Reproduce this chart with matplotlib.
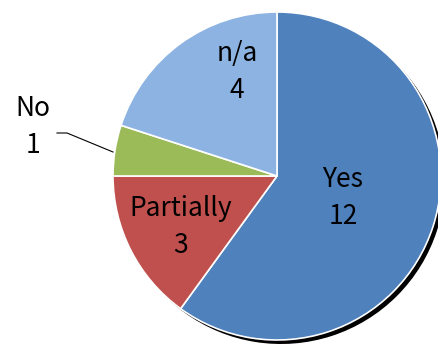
import matplotlib
matplotlib.use("Agg")
import matplotlib.pyplot as plt
from matplotlib import font_manager

categories = ["Yes", "Partially", "No", "n/a"]
values = [12, 3, 1, 4]
colors = ["#4F81BD", "#C0504D", "#9BBB59", "#8DB3E2"]

W, H = 438, 347
fig = plt.figure(figsize=(W / 100, H / 100), dpi=100)
ax = fig.add_axes([0, 0, 1, 1])
ax.set_xlim(0, W)
ax.set_ylim(0, H)
ax.axis("off")

names = {f.name for f in font_manager.fontManager.ttflist}
fam = ["Liberation Sans Narrow"] if "Liberation Sans Narrow" in names else ["Noto Sans CJK JP"]
fam = fam + ["DejaVu Sans"]

cx, cy, r = 277, H - 176, 164

# shadow
ax.pie(values, startangle=90, counterclock=False, center=(cx + 4, cy - 4), radius=r,
       colors=["black"] * len(values), wedgeprops=dict(linewidth=0))
ax.pie(values, startangle=90, counterclock=False, center=(cx, cy), radius=r,
       colors=colors, wedgeprops=dict(edgecolor="white", linewidth=1.2))
ax.set_xlim(0, W)
ax.set_ylim(0, H)
ax.set_aspect("equal")

label_pos = {"Yes": (343, 198), "Partially": (181, 227), "No": (33, 127), "n/a": (237, 72)}
for cat, val in zip(categories, values):
    x, y = label_pos[cat]
    ax.text(x, H - y, f"{cat}\n{val}", ha="center", va="center", fontsize=19,
            family=fam, linespacing=1.45, color="black")

ax.plot([57, 67, 113], [H - 133, H - 133, H - 152], color="black", linewidth=0.8)

fig.savefig("out.png", dpi=100)
